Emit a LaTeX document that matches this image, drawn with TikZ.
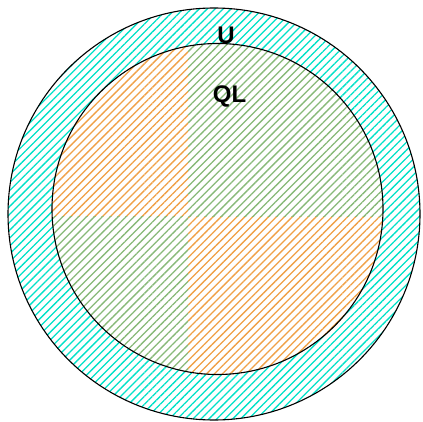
\documentclass[tikz,border=0pt]{standalone}
\usepackage{fontspec}
\setmainfont{Liberation Sans}
\usetikzlibrary{patterns.meta}
\definecolor{hcyan}{RGB}{0,225,200}
\definecolor{horange}{RGB}{240,160,70}
\definecolor{hgreen}{RGB}{135,185,120}
\tikzset{
  hatch/.style={pattern={Lines[angle=45,distance=5.6pt,line width=1.3pt]},pattern color=#1},
  ring/.style={draw=black,line width=1.1pt},
  lbl/.style={font=\fontsize{24}{24}\selectfont\bfseries,inner sep=0pt}
}
\begin{document}
\begin{tikzpicture}[x=1pt,y=-1pt]
\useasboundingbox (0,0) rectangle (423,422);
\coordinate (oc) at (214,214);
\coordinate (ic) at (217.5,209);
\fill[hatch=hcyan] (oc) circle[radius=206];
\begin{scope}
  \clip (ic) circle[radius=165.5];
  \fill[white] (ic) circle[radius=166];
  \fill[hatch=horange] (40,30) rectangle (188,217);
  \fill[hatch=horange] (188,217) rectangle (400,400);
  \fill[hatch=hgreen] (188,30) rectangle (400,217);
  \fill[hatch=hgreen] (40,217) rectangle (188,400);
\end{scope}
\draw[ring] (oc) circle[radius=206];
\draw[ring] (ic) circle[radius=165.5];
\node[lbl] (u) at (226,35) {U};
\node[lbl] (ql) at (229.5,96.5) {QL};
\end{tikzpicture}
\end{document}
